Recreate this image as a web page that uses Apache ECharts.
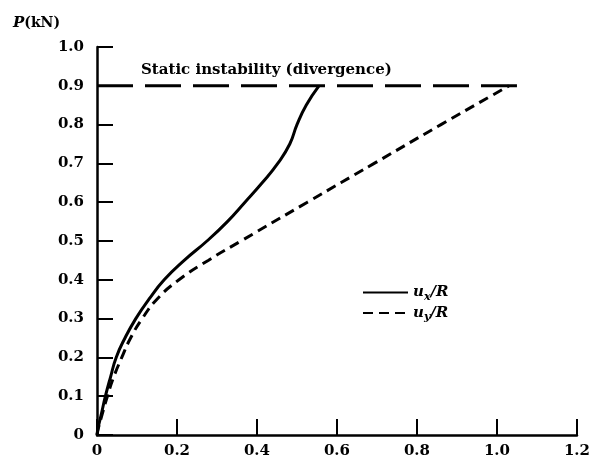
<!DOCTYPE html>
<html>
<head>
<meta charset="utf-8">
<script src="https://cdn.jsdelivr.net/npm/echarts@6/dist/echarts.min.js"></script>
<style>html,body{margin:0;padding:0;background:#fff}#c{width:593px;height:466px}</style>
</head>
<body>
<div id="c"></div>
<script>
// u_x/R (solid)
const uxVals  = [0, 0.003, 0.010, 0.021, 0.034, 0.048, 0.070, 0.097, 0.130, 0.168, 0.218, 0.275, 0.326, 0.370, 0.413, 0.452, 0.482, 0.500, 0.523, 0.555];
const uxLoads = [0, 0.020, 0.050, 0.100, 0.150, 0.200, 0.250, 0.300, 0.350, 0.400, 0.450, 0.500, 0.550, 0.600, 0.650, 0.700, 0.750, 0.800, 0.850, 0.900];
// u_y/R (dashed)
const uyVals  = [0, 0.004, 0.012, 0.026, 0.042, 0.062, 0.084, 0.113, 0.150, 0.205, 0.278, 0.360, 0.526, 0.693, 0.860, 1.030];
const uyLoads = [0, 0.020, 0.050, 0.100, 0.150, 0.200, 0.250, 0.300, 0.350, 0.400, 0.450, 0.500, 0.600, 0.700, 0.800, 0.900];
// static instability limit
const limitX = [0, 1.05];
const limitY = [0.9, 0.9];
const xTicks = [0, 0.2, 0.4, 0.6, 0.8, 1.0, 1.2];
const yTicks = [0, 0.1, 0.2, 0.3, 0.4, 0.5, 0.6, 0.7, 0.8, 0.9, 1.0];

const zip = (a, b) => a.map((v, i) => [v, b[i]]);
const font = 'DejaVu Serif';
const fmt = (ticks) => v => { const t = ticks.find(x => Math.abs(x - v) < 1e-6); return t === 0 ? '0' : t.toFixed(1); };
const chart = echarts.init(document.getElementById('c'));
chart.setOption({
  animation: false,
  backgroundColor: '#fff',
  grid: { left: 97, right: 13, top: 47, bottom: 31 },
  xAxis: {
    type: 'value', min: 0, max: 1.2, interval: 0.2,
    axisLine: { onZero: false, lineStyle: { color: '#000', width: 2.5 } },
    axisTick: { inside: true, length: 16, lineStyle: { color: '#000', width: 2 } },
    axisLabel: { color: '#000', fontFamily: font, fontWeight: 'bold', fontSize: 15, margin: 9, formatter: fmt(xTicks) },
    splitLine: { show: false }
  },
  yAxis: {
    type: 'value', min: 0, max: 1.0, interval: 0.1,
    axisLine: { show: true, onZero: false, lineStyle: { color: '#000', width: 2.5 } },
    axisTick: { show: true, inside: true, length: 16, lineStyle: { color: '#000', width: 2 } },
    axisLabel: { color: '#000', fontFamily: font, fontWeight: 'bold', fontSize: 15, margin: 13, formatter: fmt(yTicks) },
    splitLine: { show: false }
  },
  legend: {
    left: 357, top: 280, orient: 'vertical', itemWidth: 45, itemHeight: 14, itemGap: 3,
    data: ['ux', 'uy'],
    itemStyle: { opacity: 0, borderWidth: 0 },
    formatter: n => n === 'ux' ? '{u|u}{s|x}{r|/R}' : '{u|u}{s|y}{r|/R}',
    textStyle: {
      color: '#000', fontFamily: font, padding: [0, 0, 0, 0],
      rich: {
        u: { fontStyle: 'italic', fontWeight: 'bold', fontSize: 15, fontFamily: font },
        s: { fontStyle: 'italic', fontWeight: 'bold', fontSize: 11, fontFamily: font, padding: [9, 0, 0, 0] },
        r: { fontStyle: 'italic', fontWeight: 'bold', fontSize: 15, fontFamily: font }
      }
    }
  },
  graphic: [
    { type: 'text', left: 13, top: 16, style: { rich: {
        p: { fontFamily: font, fontStyle: 'italic', fontWeight: 'bold', fontSize: 15, fill: '#000' },
        k: { fontFamily: font, fontWeight: 'bold', fontSize: 14, fill: '#000' } },
        text: '{p|P}{k|(kN)}' } },
    { type: 'text', left: 141, top: 63, style: { text: 'Static instability (divergence)',
        fontFamily: font, fontWeight: 'bold', fontSize: 15, fill: '#000' } }
  ],
  series: [
    { name: 'ux', type: 'line', data: zip(uxVals, uxLoads), smooth: 0.5, symbol: 'none',
      lineStyle: { color: '#000', width: 3 }, itemStyle: { color: '#000' } },
    { name: 'uy', type: 'line', data: zip(uyVals, uyLoads), smooth: 0.5, symbol: 'none',
      lineStyle: { color: '#000', width: 3, type: [10, 6] }, itemStyle: { color: '#000' } },
    { name: 'limit', type: 'line', data: zip(limitX, limitY), symbol: 'none',
      lineStyle: { color: '#000', width: 3, type: [36, 12] } }
  ]
});
</script>
</body>
</html>
